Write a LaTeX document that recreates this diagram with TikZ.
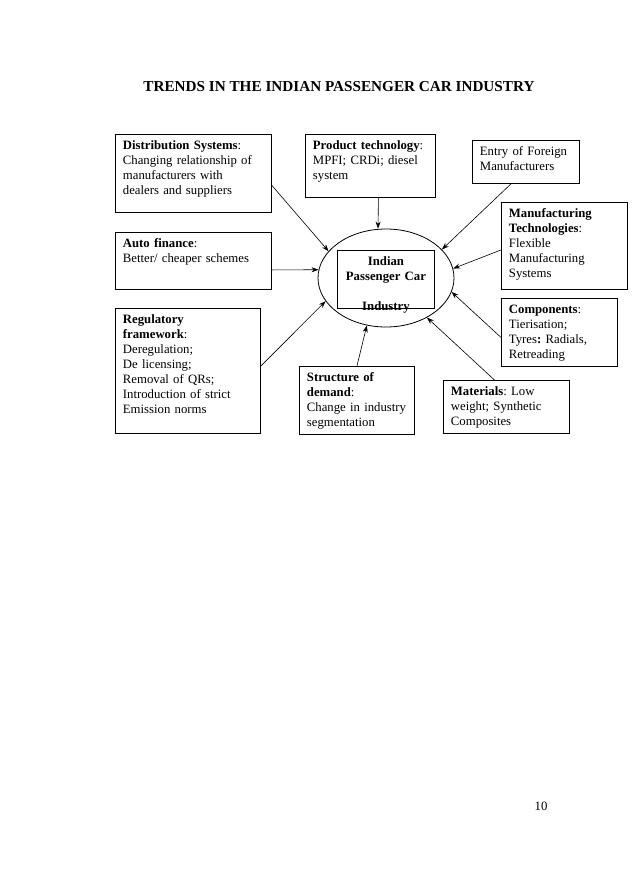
\documentclass[tikz,border=0pt]{standalone}
\usepackage{fontspec}
\setmainfont{Liberation Serif}
\usepackage{tikz}
\usetikzlibrary{arrows.meta,shapes.geometric}
\frenchspacing
\hyphenpenalty=10000
\exhyphenpenalty=10000

\begin{document}
\begin{tikzpicture}[x=1pt,y=-1pt,font=\fontsize{12.75}{15}\selectfont,
    card/.style={draw,line width=0.9pt,anchor=north west,align=left,
                 inner xsep=7.5pt,inner ysep=4pt,text height=11.5pt},
    feed/.style={-{Stealth[length=7pt,width=5pt]},line width=0.6pt}]
    \useasboundingbox (0,0) rectangle (638,881);

    \node[anchor=base,font=\bfseries\fontsize{15.2}{17}\selectfont] (title) at (339,91)
      {TRENDS IN THE INDIAN PASSENGER CAR INDUSTRY};

    % centre
    \node[draw,ellipse,line width=0.8pt,inner sep=0pt,
          minimum width=136pt,minimum height=98pt] (industry) at (386,278) {};
    \node[draw,line width=0.9pt,anchor=north west,align=center,font=\bfseries\fontsize{12.75}{15}\selectfont,
          inner xsep=7.5pt,inner ysep=4pt,text width=82pt,text height=11.5pt,text depth=38.5pt]
      (core) at (337,250) {Indian\\Passenger Car\\[15pt]Industry};

    % factors
    \node[card,text width=141pt,text depth=58.5pt] (dist) at (115,134)
      {\textbf{Distribution Systems}:\\Changing relationship of\\manufacturers with\\dealers and suppliers};
    \node[card,text width=115pt,text depth=43.5pt] (prod) at (305,134)
      {\textbf{Product technology}:\\MPFI; CRDi; diesel\\system};
    \node[card,text width=92pt,text depth=23.5pt] (entry) at (472,140)
      {Entry of Foreign\\Manufacturers};
    \node[card,text width=111pt,text depth=67.5pt] (manuf) at (501,202)
      {\textbf{Manufacturing}\\\textbf{Technologies}:\\Flexible\\Manufacturing\\Systems};
    \node[card,text width=141pt,text depth=37.5pt] (auto) at (115,232)
      {\textbf{Auto finance}:\\Better/ cheaper schemes};
    \node[card,text width=101pt,text depth=48.5pt] (comp) at (501,298)
      {\textbf{Components}:\\Tierisation;\\Tyres\textbf{:} Radials,\\Retreading};
    \node[card,text width=130pt,text depth=105.5pt] (reg) at (115,308)
      {\textbf{Regulatory}\\\textbf{framework}:\\Deregulation;\\De licensing;\\Removal of QRs;\\Introduction of strict\\Emission norms};
    \node[card,text width=100pt,text depth=48.5pt] (struct) at (299,366)
      {\textbf{Structure of}\\\textbf{demand}:\\Change in industry\\segmentation};
    \node[card,text width=111pt,text depth=33.5pt] (mat) at (443,380)
      {\textbf{Materials}: Low\\weight; Synthetic\\Composites};

    % arrows into the industry
    \draw[feed] ([yshift=-12pt]dist.east) -- (industry.155);
    \draw[feed] ([xshift=8pt]prod.south) -- ([xshift=-8pt]industry.north);
    \draw[feed] ([xshift=-15pt]entry.south) -- (industry.27);
    \draw[feed] ([yshift=-4pt]manuf.west) -- (industry.8.5);
    \draw[feed] ([yshift=-9pt]auto.east) -- (industry.173);
    \draw[feed] ([yshift=-5pt]comp.west) -- (industry.348);
    \draw[feed] ([yshift=5pt]reg.east) -- (industry.201.5);
    \draw[feed] (struct.north) -- (industry.248);
    \draw[feed] ([xshift=-12pt]mat.north) -- (industry.316);

    \node[anchor=base] (page) at (541,810) {10};
\end{tikzpicture}
\end{document}
